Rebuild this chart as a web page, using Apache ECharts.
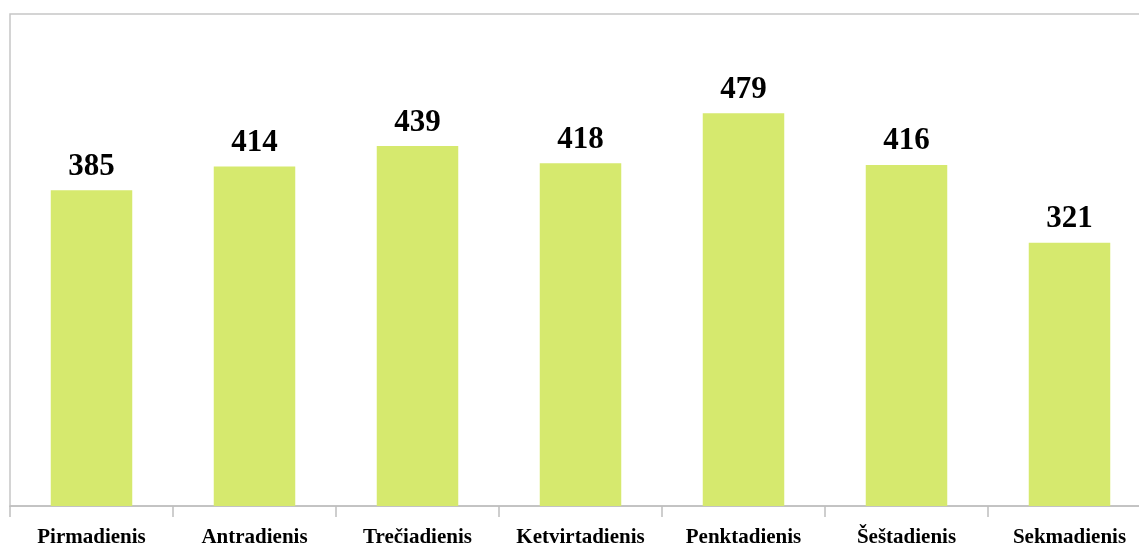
<!DOCTYPE html>
<html>
<head>
<meta charset="utf-8">
<script src="https://cdn.jsdelivr.net/npm/echarts@6/dist/echarts.min.js"></script>
<style>
  html, body { margin: 0; padding: 0; background: #fff; overflow: hidden; }
  #chart { width: 1152px; height: 548px; }
</style>
</head>
<body>
<div id="chart"></div>
<script>
// savaitės dienos ir reikšmės
var days = ['Pirmadienis', 'Antradienis', 'Trečiadienis', 'Ketvirtadienis', 'Penktadienis', 'Šeštadienis', 'Sekmadienis'];
var counts = [385, 414, 439, 418, 479, 416, 321];

var chart = echarts.init(document.getElementById('chart'));

chart.setOption({
    animation: false,
    grid: {
        show: true,
        left: 10,
        top: 14,
        right: 1,
        bottom: 41,
        borderColor: '#c6c6c6',
        borderWidth: 1.5,
        backgroundColor: '#fff'
    },
    xAxis: {
        type: 'category',
        data: days,
        axisLine: { lineStyle: { color: '#bfbfbf', width: 1.5 } },
        axisTick: { show: true, length: 11, lineStyle: { color: '#bfbfbf', width: 1.5 } },
        axisLabel: {
            margin: 21,
            color: '#000',
            fontFamily: 'Liberation Serif',
            fontWeight: 'bold',
            fontSize: 21,
            interval: 0
        }
    },
    yAxis: {
        type: 'value',
        min: 0,
        max: 600,
        show: false,
        splitLine: { show: false }
    },
    series: [{
        type: 'bar',
        data: counts,
        barWidth: '50%',
        itemStyle: { color: '#d6e96e' },
        label: {
            show: true,
            position: 'top',
            distance: 8,
            color: '#000',
            fontFamily: 'Liberation Serif',
            fontWeight: 'bold',
            fontSize: 31
        }
    }]
});
</script>
</body>
</html>
